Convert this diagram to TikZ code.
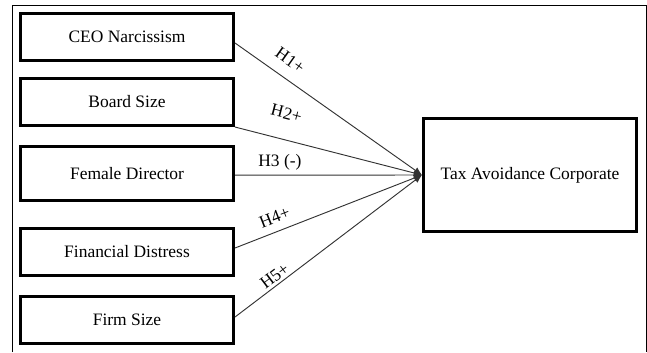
\documentclass[tikz,border=0pt]{standalone}
\usepackage{fontspec}
\setmainfont{Liberation Serif}
\usetikzlibrary{arrows.meta,positioning,calc}

\begin{document}
\begin{tikzpicture}[x=0.03cm, y=-0.03cm,
  >=Latex, font=\fontsize{14.9}{17}\selectfont,
  varbox/.style={draw=black, line width=2.6pt, fill=white,
                 minimum width=6.39cm, minimum height=1.41cm, inner sep=0pt},
  outbox/.style={draw=black, line width=2.6pt, fill=white,
                 minimum width=6.39cm, minimum height=3.39cm, inner sep=0pt},
  hyp/.style={-{Latex[length=7pt,width=6pt]}, line width=0.8pt, draw=black!80},
  hlabel/.style={sloped, inner sep=1pt, pos=0.24},
]
\useasboundingbox (0,0) rectangle (647,352);

% ============ FRAME (open at the bottom) ============
\draw[line width=0.6pt] (12,352) -- (12,5) -- (646,5) -- (646,352);

% ============ INDEPENDENT VARIABLES ============
\node[varbox] (ceo) at (127, 37) {CEO Narcissism};
\node[varbox] (board) at (127, 102) {Board Size};
\node[varbox, minimum height=1.62cm] (female) at (127, 173.5) {Female Director};
\node[varbox] (distress) at (127, 252) {Financial Distress};
\node[varbox] (firm) at (127, 320) {Firm Size};

% ============ DEPENDENT VARIABLE ============
\node[outbox] (tax) at (530, 175) {Tax Avoidance Corporate};

% ============ HYPOTHESES ============
\draw[hyp] ([yshift=-0.18cm]ceo.east) -- (tax.west)
  node[hlabel, above=9pt] {H1+};
\draw[hyp] (board.south east) -- (tax.west)
  node[hlabel, above=16pt] {H2+};
\draw[hyp] ([yshift=-0.05cm]female.east) -- (tax.west)
  node[hlabel, above=3pt] {H3 (-)};
\draw[hyp] ([yshift=0.12cm]distress.east) -- (tax.west)
  node[hlabel, above=6pt] {H4+};
\draw[hyp] ([yshift=0.09cm]firm.east) -- (tax.west)
  node[hlabel, above=1pt] {H5+};

\end{tikzpicture}
\end{document}
